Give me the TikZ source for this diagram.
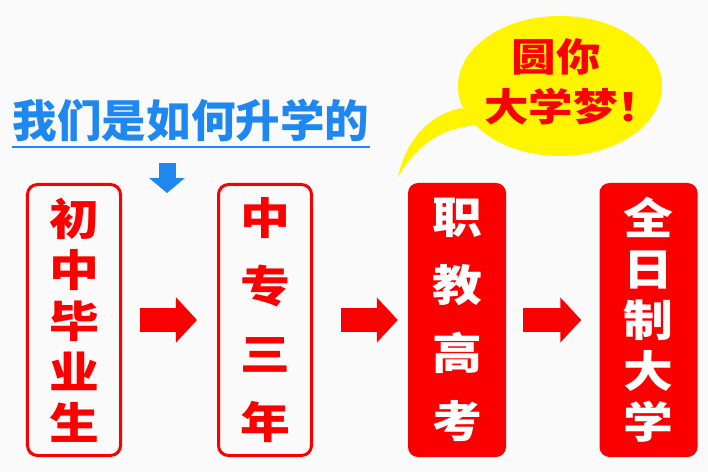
\documentclass[tikz,border=0pt]{standalone}
\usepackage{fontspec}
\usetikzlibrary{arrows.meta}
\newfontfamily\cjk[FakeStretch=1.15]{Noto Sans CJK SC}
\newfontfamily\cjktitle{Noto Sans CJK SC}
\definecolor{hongse}{RGB}{250,0,0}
\definecolor{lanse}{RGB}{30,136,240}
\definecolor{huangse}{RGB}{255,245,0}
\definecolor{beijing}{RGB}{250,250,250}
\tikzset{
  kuang/.style={rectangle, rounded corners=0.3cm, inner sep=0pt, align=center},
  kong/.style={kuang, draw=hongse, line width=0.09cm, text=hongse,
    minimum width=2.79cm, minimum height=8.13cm},
  shi/.style={kuang, fill=hongse, text=white,
    minimum width=2.94cm, minimum height=8.22cm},
  mi/.style={font=\cjk\bfseries\fontsize{37}{43.5}\selectfont},
  shu/.style={font=\cjk\bfseries\fontsize{37}{58}\selectfont},
  cuti/.style={-{Triangle[width=1.32cm, length=0.63cm]}, line width=0.72cm, hongse},
  lanjiantou/.style={-{Triangle[width=1.05cm, length=0.45cm]}, line width=0.51cm, lanse},
  paopao/.style={inner sep=0pt, text=hongse, font=\cjk\bfseries\fontsize{33}{33}\selectfont},
}
\begin{document}
\begin{tikzpicture}[x=0.03cm, y=-0.03cm]
  \fill[beijing] (0, 0) rectangle (708, 472);
  \useasboundingbox (0, 0) rectangle (708, 472);

  \node[font=\cjktitle\bfseries\fontsize{38}{38}\selectfont, text=lanse, inner sep=0pt]
    (biaoti) at (191, 120) {我们是如何升学的};
  \draw[lanse, line width=0.06cm] (12, 147) -- (370, 147);

  \coordinate (lan qi) at (167, 163);
  \coordinate (lan zhi) at (167, 193);
  \draw[lanjiantou] (lan qi) -- (lan zhi);

  \fill[huangse] (462, 108) .. controls (425, 115) and (405, 145) .. (398, 177)
    .. controls (420, 140) and (445, 128) .. (478, 125) -- cycle;
  \fill[huangse] (560, 86) ellipse [x radius=3.06cm, y radius=2.1cm];
  \node[paopao] (yuanni) at (556, 57) {圆你};
  \node[paopao] (mengxiang) at (573, 107) {大学梦！};

  \node[kong, mi] (chuzhong) at (74, 320) {初\\中\\毕\\业\\生};
  \node[kong, shu] (zhongzhuan) at (265, 320) {中\\专\\三\\年};
  \node[shi, shu] (zhijiao) at (457, 320) {职\\教\\高\\考};
  \node[shi, mi] (quanrizhi) at (648.5, 320) {全\\日\\制\\大\\学};

  \draw[cuti, shorten <=0.54cm, shorten >=0.6cm] (chuzhong) -- (zhongzhuan);
  \draw[cuti, shorten <=0.84cm, shorten >=0.3cm] (zhongzhuan) -- (zhijiao);
  \draw[cuti, shorten <=0.51cm, shorten >=0.54cm] (zhijiao) -- (quanrizhi);
\end{tikzpicture}
\end{document}
